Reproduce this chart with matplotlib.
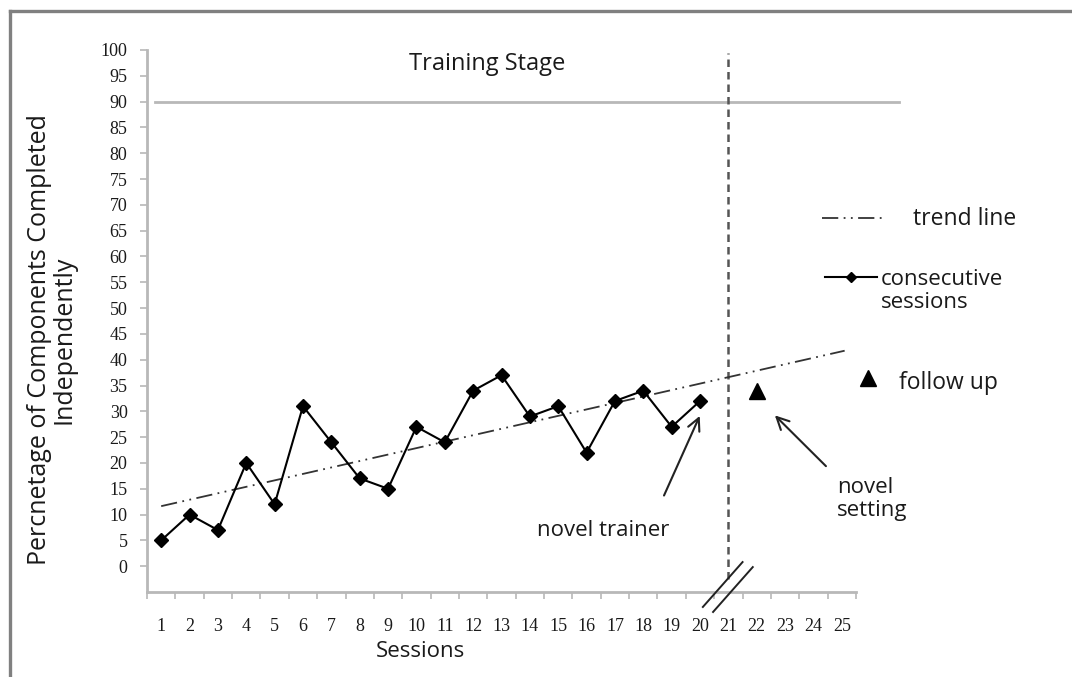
import numpy as np
import matplotlib
matplotlib.use("Agg")
import matplotlib.pyplot as plt
from matplotlib.lines import Line2D

# data
sessions = list(range(1, 21))
pct_independent = [5, 10, 7, 20, 12, 31, 24, 17, 15, 27, 24, 34, 37, 29, 31, 22, 32, 34, 27, 32]
followup_session = [22]
followup_pct = [34]
x_ticks = list(range(1, 26))
y_ticks = list(range(0, 101, 5))
criterion = 90
phase_change = 21

sans = ["Open Sans", "DejaVu Sans"]
serif = ["Liberation Serif", "DejaVu Serif"]
grey = "#b8b8b8"
txt = "#1a1a1a"
trend_dash = (9, 3, 1, 3, 1, 3)

fig = plt.figure(figsize=(10.72, 6.77), dpi=100)
ax = fig.add_axes([147/1072, 1-592/677, 709/1072, 542/677])

# consecutive sessions
ax.plot(sessions, pct_independent, color="black", lw=1.5, marker="D",
        markersize=7.5, markerfacecolor="black", zorder=4)
# follow up
ax.plot(followup_session, followup_pct, linestyle="none", marker="^",
        markersize=11, color="black", zorder=4)

# trend line (least squares fit of the training sessions)
slope, icpt = np.polyfit(sessions, pct_independent, 1)
tx = np.array([1, 25.1])
ax.plot(tx, slope*tx + icpt, color="#333333", lw=1.3,
        dashes=trend_dash, zorder=3, clip_on=False)

# criterion line
ax.plot([0.78, 27.0], [criterion, criterion], color=grey, lw=2, clip_on=False)

# phase change line
ax.plot([phase_change, phase_change], [-2.5, 99.5], color="#555555", lw=1.8,
        dashes=(3, 2), clip_on=False)

# axis break marks
for dx in (0, 0.36):
    ax.plot([20.1+dx, 21.5+dx], [-7.9-dx*2.7, 0.8-dx*2.7], color="#222222",
            lw=1.4, clip_on=False, zorder=5)

ax.set_xlim(0.5, 25.5)
ax.set_ylim(-5, 100)
for s in ("top", "right"):
    ax.spines[s].set_visible(False)
for s in ("left", "bottom"):
    ax.spines[s].set_color(grey)
    ax.spines[s].set_linewidth(2)

ax.set_xticks(x_ticks)
ax.set_xticklabels([str(v) for v in x_ticks], fontfamily=serif, fontsize=13, color=txt)
ax.set_xticks(np.arange(0.5, 26, 1), minor=True)
ax.tick_params(axis="x", which="major", length=0, pad=19)
ax.tick_params(axis="x", which="minor", length=5, width=1.2, color=grey, direction="out")
ax.set_yticks(y_ticks)
ax.set_yticklabels([str(v) for v in y_ticks], fontfamily=serif, fontsize=13, color=txt)
ax.tick_params(axis="y", length=5, width=1.2, color=grey, direction="out", pad=9)

ax.set_xlabel("Sessions", fontfamily=sans, fontsize=16, color=txt, va="top")
ax.xaxis.set_label_coords(0.385, -0.09)
ax.set_ylabel("Percnetage of Components Completed\nIndependently",
              fontfamily=sans, fontsize=18, color=txt, linespacing=0.95)
ax.yaxis.set_label_coords(-0.1, 0.465)

ax.text(12.5, 97.3, "Training Stage", fontfamily=sans, fontsize=17,
        color=txt, ha="center", va="center")

# annotations
ax.annotate("", xy=(20.03, 29.6), xytext=(18.69, 13.2),
            arrowprops=dict(arrowstyle="->", lw=1.5, color="#222222",
                            mutation_scale=22))
ax.text(16.58, 7.0, "novel trainer", fontfamily=sans, fontsize=16,
        color=txt, ha="center", va="center")
ax.annotate("", xy=(22.57, 29.6), xytext=(24.51, 19.0),
            arrowprops=dict(arrowstyle="->", lw=1.5, color="#222222",
                            mutation_scale=22))
ax.text(24.83, 13.0, "novel\nsetting", fontfamily=sans, fontsize=16,
        color=txt, ha="left", va="center", linespacing=1.1)

# legend drawn by hand (axes fraction coords)
def fx(px):
    return (px - 147) / 709

def fy(py):
    return (592 - py) / 542

lt = ax.transAxes
ax.add_line(Line2D([fx(822), fx(887)], [fy(218), fy(218)], transform=lt,
                   color="#333333", lw=1.3, dashes=trend_dash, clip_on=False))
ax.text(fx(913), fy(219), "trend line", transform=lt, fontfamily=sans,
        fontsize=16.5, color=txt, ha="left", va="center")
ax.add_line(Line2D([fx(825), fx(877)], [fy(277), fy(277)], transform=lt,
                   color="black", lw=1.5, clip_on=False))
ax.add_line(Line2D([fx(851)], [fy(277)], transform=lt, marker="D",
                   markersize=5, color="black", clip_on=False))
ax.text(fx(881), fy(291), "consecutive\nsessions", transform=lt, fontfamily=sans,
        fontsize=16, color=txt, ha="left", va="center", linespacing=1.1)
ax.add_line(Line2D([fx(868)], [fy(378)], transform=lt, marker="^",
                   markersize=11, color="black", clip_on=False))
ax.text(fx(899), fy(383), "follow up", transform=lt, fontfamily=sans,
        fontsize=16.5, color=txt, ha="left", va="center")

# page frame
fig.add_artist(Line2D([10/1072, 1], [1-11/677, 1-11/677], color="#808080", lw=2.4))
fig.add_artist(Line2D([10/1072, 10/1072], [0, 1-11/677], color="#808080", lw=2.4))

fig.savefig("out.png", dpi=100, facecolor="white")
